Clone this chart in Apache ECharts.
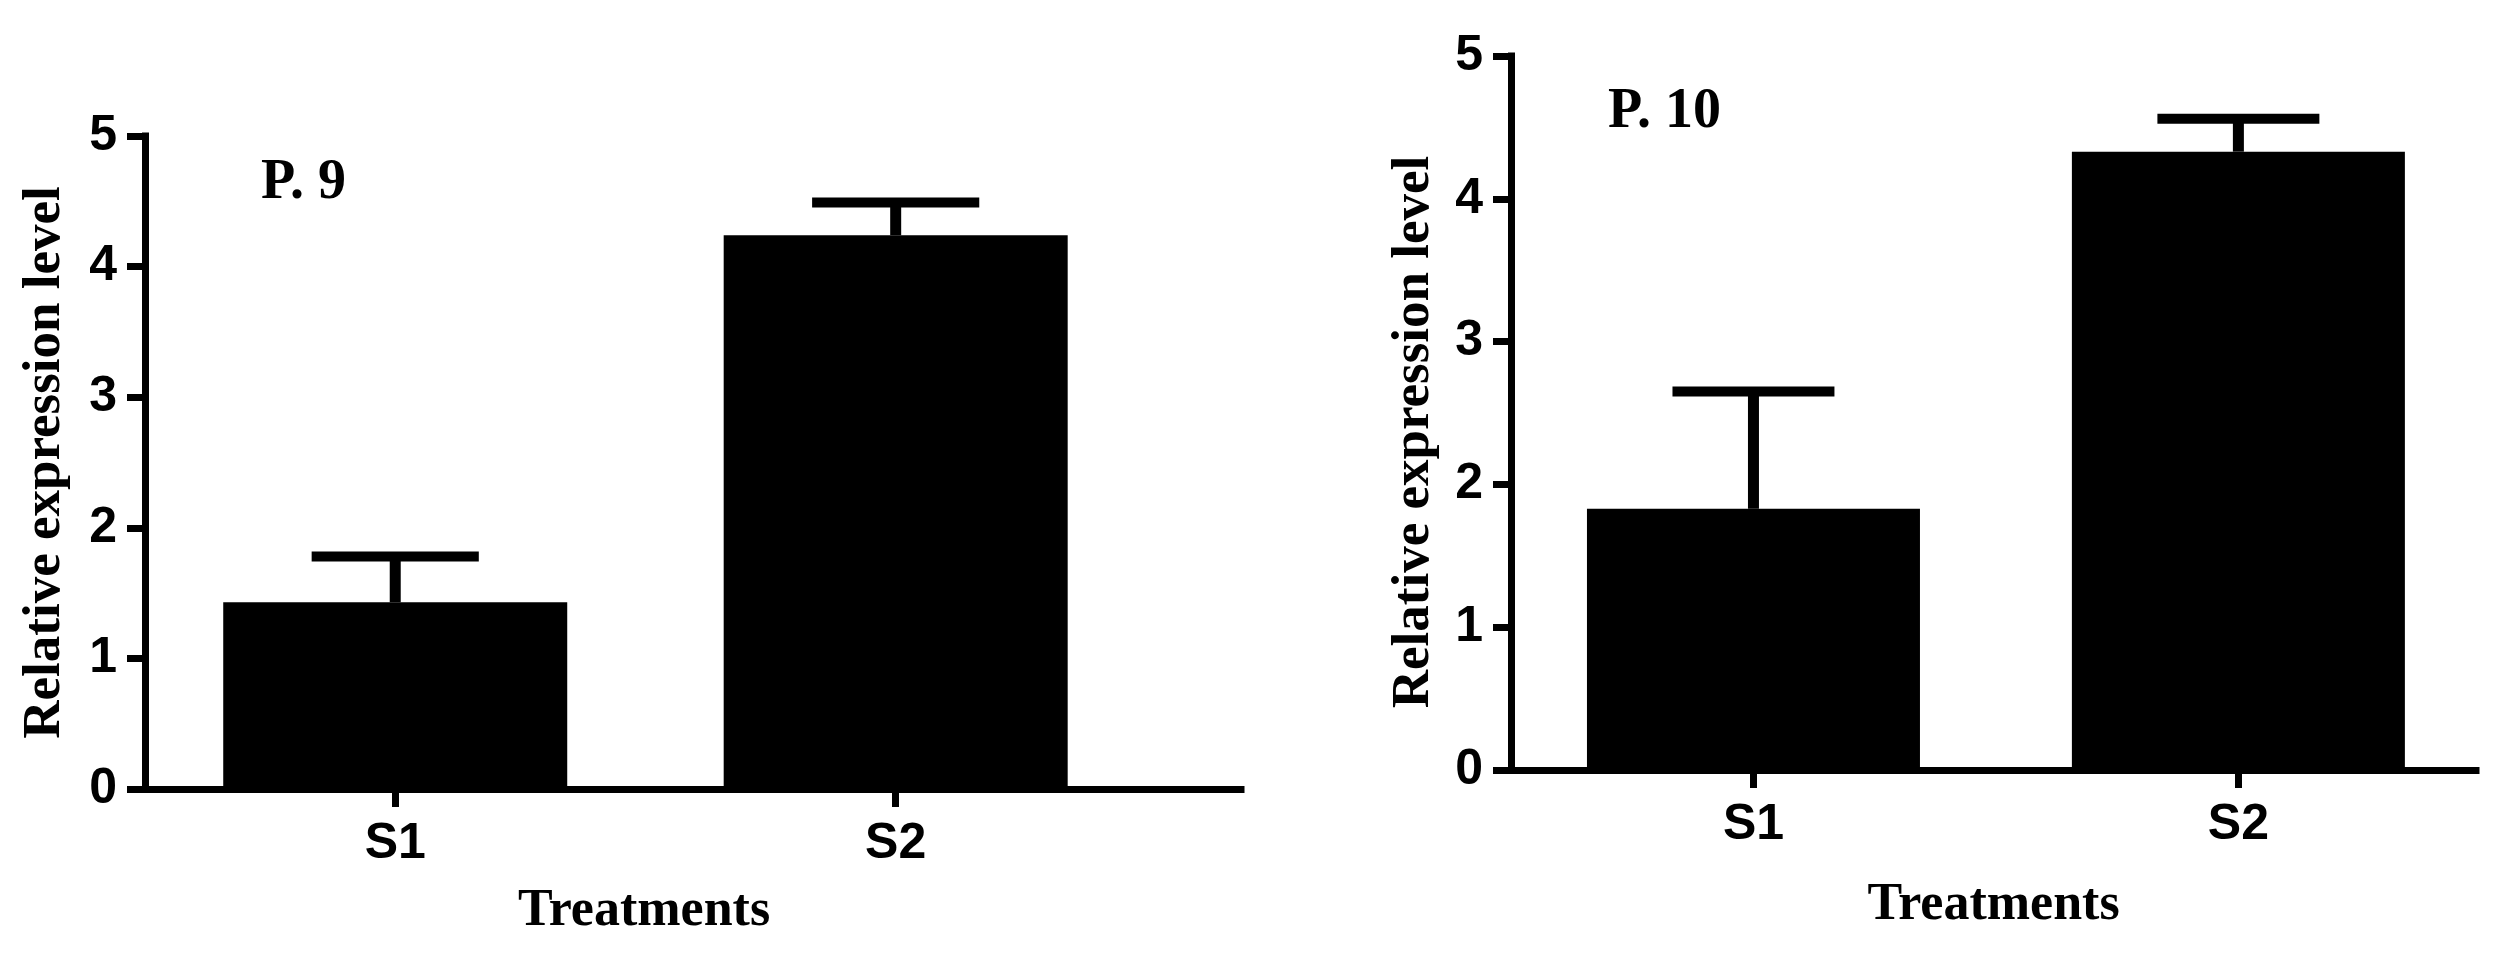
<!DOCTYPE html>
<html>
<head>
<meta charset="utf-8">
<script src="https://cdn.jsdelivr.net/npm/echarts@6/dist/echarts.min.js"></script>
<style>
  html, body { margin: 0; padding: 0; background: #fff; }
  #chart { width: 2505px; height: 955px; }
</style>
</head>
<body>
<div id="chart"></div>
<script>
// data
var categories = ['S1', 'S2'];
var panelTitles = ['P. 9', 'P. 10'];
var p9Means = [1.43, 4.24];
var p9Upper = [1.78, 4.49];
var p10Means = [1.83, 4.33];
var p10Upper = [2.65, 4.56];
var yTickMax = 5;

var tickFont = 'Liberation Sans, Arial, sans-serif';
var nameFont = 'Liberation Serif, Times New Roman, serif';

function barData(means) {
    return means.map(function (v, i) { return [i + 1, v]; });
}
function errData(means, upper) {
    return means.map(function (v, i) { return [i + 1, v, upper[i]]; });
}

// error bar: whisker up from the mean plus a cap
function renderErr(params, api) {
    var x = api.value(0);
    var top = api.coord([x, api.value(2)]);
    var base = api.coord([x, api.value(1)]);
    var unit = api.size([1, 0])[0];
    var capHalf = unit * 0.167;
    return {
        type: 'group',
        children: [
            { type: 'rect', shape: { x: top[0] - 5.5, y: top[1], width: 11, height: base[1] - top[1] }, style: { fill: '#000' } },
            { type: 'rect', shape: { x: top[0] - capHalf, y: top[1] - 5, width: capHalf * 2, height: 10 }, style: { fill: '#000' } }
        ]
    };
}

function xAxis(idx, max, nameGap, namePad) {
    return {
        gridIndex: idx,
        type: 'value',
        min: 0.5,
        max: max,
        name: 'Treatments',
        nameLocation: 'middle',
        nameGap: nameGap,
        nameTextStyle: { fontFamily: nameFont, fontWeight: 'bold', fontSize: 52, color: '#000', padding: namePad },
        splitLine: { show: false },
        axisLine: { show: true, onZero: false, lineStyle: { color: '#000', width: 7, cap: 'square' } },
        axisTick: { show: true, length: 18, customValues: [1, 2], lineStyle: { color: '#000', width: 7 } },
        axisLabel: {
            customValues: [1, 2],
            margin: 30,
            fontFamily: tickFont, fontWeight: 'bold', fontSize: 50, color: '#000',
            formatter: function (v) { return categories[Math.round(v) - 1] || ''; }
        }
    };
}

function yAxis(idx, nameGap, namePad) {
    return {
        gridIndex: idx,
        type: 'value',
        min: 0,
        max: yTickMax,
        interval: 1,
        name: 'Relative expression level',
        nameLocation: 'middle',
        nameGap: nameGap,
        nameTextStyle: { fontFamily: nameFont, fontWeight: 'bold', fontSize: 53, color: '#000', padding: namePad },
        splitLine: { show: false },
        axisLine: { show: true, lineStyle: { color: '#000', width: 7, cap: 'square' } },
        axisTick: { show: true, length: 18, lineStyle: { color: '#000', width: 7 } },
        axisLabel: { margin: 28, fontFamily: tickFont, fontWeight: 'bold', fontSize: 50, color: '#000' }
    };
}

var chart = echarts.init(document.getElementById('chart'));
chart.setOption({
    backgroundColor: '#fff',
    animation: false,
    title: [
        { text: panelTitles[0], left: 256, top: 151, textStyle: { fontFamily: nameFont, fontWeight: 'bold', fontSize: 56, color: '#000' } },
        { text: panelTitles[1], left: 1603, top: 80, textStyle: { fontFamily: nameFont, fontWeight: 'bold', fontSize: 56, color: '#000' } }
    ],
    grid: [
        { left: 145, right: 1264, top: 136, bottom: 166 },
        { left: 1511, right: 29, top: 56, bottom: 185 }
    ],
    xAxis: [xAxis(0, 2.69, 97, [0, 98, 0, 0]), xAxis(1, 2.49, 110, 0)],
    yAxis: [yAxis(0, 73, 0), yAxis(1, 70, [0, 38, 0, 0])],
    series: [
        { type: 'bar', xAxisIndex: 0, yAxisIndex: 0, barWidth: 344, itemStyle: { color: '#000' }, data: barData(p9Means) },
        { type: 'custom', xAxisIndex: 0, yAxisIndex: 0, renderItem: renderErr, data: errData(p9Means, p9Upper), z: 3 },
        { type: 'bar', xAxisIndex: 1, yAxisIndex: 1, barWidth: 333, itemStyle: { color: '#000' }, data: barData(p10Means) },
        { type: 'custom', xAxisIndex: 1, yAxisIndex: 1, renderItem: renderErr, data: errData(p10Means, p10Upper), z: 3 }
    ]
});
</script>
</body>
</html>
